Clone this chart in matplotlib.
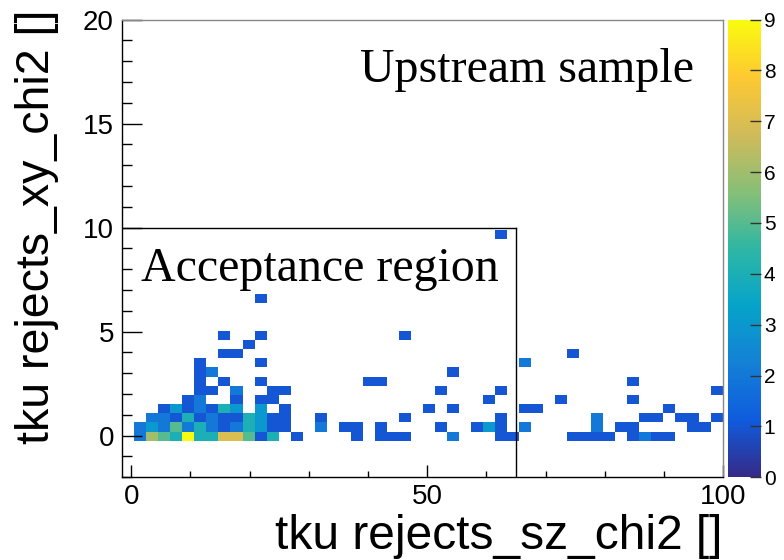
import numpy as np
import matplotlib
matplotlib.use("Agg")
import matplotlib.pyplot as plt
from matplotlib.colors import LinearSegmentedColormap
from matplotlib.ticker import MultipleLocator

plt.rcParams['font.family'] = ['Liberation Sans', 'DejaVu Sans']

# histogram binning (ROOT TH2: 50 x 50 bins)
X_LO, X_HI, NX = -1.5, 100.0, 50
Y_LO, Y_HI, NY = -2.0, 20.0, 50

# filled bins, one row of xy_chi2 at a time
row_xy = [-0.02, 0.42, 0.86, 1.30, 1.74, 2.18, 2.62, 3.06, 3.50, 3.94, 4.38, 4.82, 6.58, 9.66]
row_sz = [
    [1.5, 3.6, 5.6, 7.6, 9.7, 11.7, 13.7, 15.8, 17.8, 19.8, 21.8, 23.9, 27.9, 38.1,
     42.1, 44.2, 46.2, 54.3, 62.4, 64.5, 74.6, 76.7, 78.7, 80.7, 84.8, 86.8, 88.8, 90.9],
    [1.5, 3.6, 5.6, 7.6, 9.7, 11.7, 13.7, 15.8, 17.8, 19.8, 21.8, 23.9, 25.9, 32.0,
     36.1, 38.1, 42.1, 52.3, 58.4, 60.4, 62.4, 66.5, 78.7, 82.7, 84.8, 94.9, 97.0],
    [3.6, 5.6, 7.6, 9.7, 11.7, 13.7, 15.8, 17.8, 19.8, 21.8, 23.9, 25.9, 32.0, 46.2,
     62.4, 78.7, 86.8, 88.8, 92.9, 94.9, 99.0],
    [5.6, 7.6, 9.7, 11.7, 13.7, 15.8, 17.8, 21.8, 25.9, 50.3, 54.3, 66.5, 68.5, 90.9],
    [9.7, 11.7, 17.8, 21.8, 23.9, 60.4, 72.6, 84.8],
    [11.7, 13.7, 17.8, 23.9, 25.9, 52.3, 62.4, 99.0],
    [11.7, 15.8, 21.8, 40.1, 42.1, 84.8],
    [11.7, 13.7, 54.3],
    [11.7, 21.8, 66.5],
    [15.8, 17.8, 74.6],
    [19.8],
    [15.8, 21.8, 46.2],
    [21.8],
    [62.4],
]
row_n = [
    [2, 6, 5, 4, 9, 4, 4, 7, 7, 5, 1, 4, 1, 1, 1, 1, 1, 2, 1, 1, 1, 1, 1, 1, 1, 2, 1, 1],
    [2, 3, 2, 5, 2, 4, 2, 1, 2, 4, 3, 1, 1, 2, 1, 1, 1, 1, 1, 3, 1, 2, 2, 1, 1, 1, 1],
    [2, 2, 1, 4, 1, 2, 1, 1, 4, 3, 1, 1, 1, 1, 1, 2, 1, 1, 1, 1, 1],
    [1, 3, 1, 2, 1, 4, 3, 3, 1, 1, 1, 1, 1, 1],
    [1, 2, 1, 1, 1, 1, 1, 1],
    [1, 1, 2, 1, 1, 1, 1, 1],
    [1, 1, 1, 1, 1, 1],
    [1, 2, 1],
    [1, 1, 2],
    [1, 1, 1],
    [1],
    [1, 1, 1],
    [1],
    [1],
]

# acceptance cut
SZ_CUT = 65.0
XY_CUT = 10.0

# ROOT kBird palette
bird_stops = [0.0, 0.125, 0.25, 0.375, 0.5, 0.625, 0.75, 0.875, 1.0]
bird_r = [0.2082, 0.0592, 0.0780, 0.0232, 0.1802, 0.5301, 0.8186, 0.9956, 0.9764]
bird_g = [0.1664, 0.3599, 0.5041, 0.6419, 0.7178, 0.7492, 0.7328, 0.7862, 0.9832]
bird_b = [0.5293, 0.8684, 0.8385, 0.7914, 0.6425, 0.4662, 0.3499, 0.1968, 0.0539]
bird = LinearSegmentedColormap.from_list(
    "bird", list(zip(bird_stops, zip(bird_r, bird_g, bird_b))), N=255)

sz, xy, n = [], [], []
for yv, xs, ns in zip(row_xy, row_sz, row_n):
    sz += xs
    xy += [yv] * len(xs)
    n += ns

x_edges = np.linspace(X_LO, X_HI, NX + 1)
y_edges = np.linspace(Y_LO, Y_HI, NY + 1)
H, _, _ = np.histogram2d(sz, xy, bins=[x_edges, y_edges], weights=n)
H = np.ma.masked_where(H == 0, H)

W, Hpx = 784, 560
fig = plt.figure(figsize=(W / 100, Hpx / 100), dpi=100)
ax = fig.add_axes([122.3 / W, 1 - 477.3 / Hpx, (723.3 - 122.3) / W, (477.3 - 19.5) / Hpx])

mesh = ax.pcolormesh(x_edges, y_edges, H.T, cmap=bird, vmin=0, vmax=9)

ax.plot([X_LO, SZ_CUT], [XY_CUT, XY_CUT], color='black', lw=1)
ax.plot([SZ_CUT, SZ_CUT], [XY_CUT, Y_LO], color='black', lw=1)

ax.set_xlim(X_LO, X_HI)
ax.set_ylim(Y_LO, Y_HI)

ax.xaxis.set_major_locator(MultipleLocator(50))
ax.xaxis.set_minor_locator(MultipleLocator(10))
ax.yaxis.set_major_locator(MultipleLocator(5))
ax.yaxis.set_minor_locator(MultipleLocator(1))
ax.tick_params(axis='x', which='major', direction='in', length=8.6, width=1, labelsize=20, pad=5)
ax.tick_params(axis='x', which='minor', direction='in', length=4.3, width=1)
ax.tick_params(axis='y', which='major', direction='in', length=14.4, width=1, labelsize=20, pad=6)
ax.tick_params(axis='y', which='minor', direction='in', length=7.2, width=1)
ax.tick_params(top=False, right=False, which='both')
for side in ['top', 'right']:
    ax.spines[side].set_color('#888888')
for spine in ax.spines.values():
    spine.set_linewidth(1)

ax.text(38.6, 16.98, "Upstream sample", family='Liberation Serif', fontsize=34.5,
        ha='left', va='baseline')
ax.text(1.7, 7.43, "Acceptance region", family='Liberation Serif', fontsize=34.5,
        ha='left', va='baseline')

fig.text(722 / W, 1 - 549 / Hpx, "tku rejects_sz_chi2 []", fontsize=34.5,
         ha='right', va='baseline')
fig.text(49 / W, 1 - 9 / Hpx, "tku rejects_xy_chi2 []", fontsize=33.5,
         rotation=90, rotation_mode='anchor', ha='right', va='baseline')

cax = fig.add_axes([728 / W, 1 - 477.3 / Hpx, 33 / W, (477.3 - 19.5) / Hpx])
cb = fig.colorbar(mesh, cax=cax, ticks=range(10))
cb.outline.set_visible(False)
cax.tick_params(direction='in', length=8, width=1, labelsize=15, pad=2,
                color='#333333')

fig.savefig("out.png", dpi=100)
